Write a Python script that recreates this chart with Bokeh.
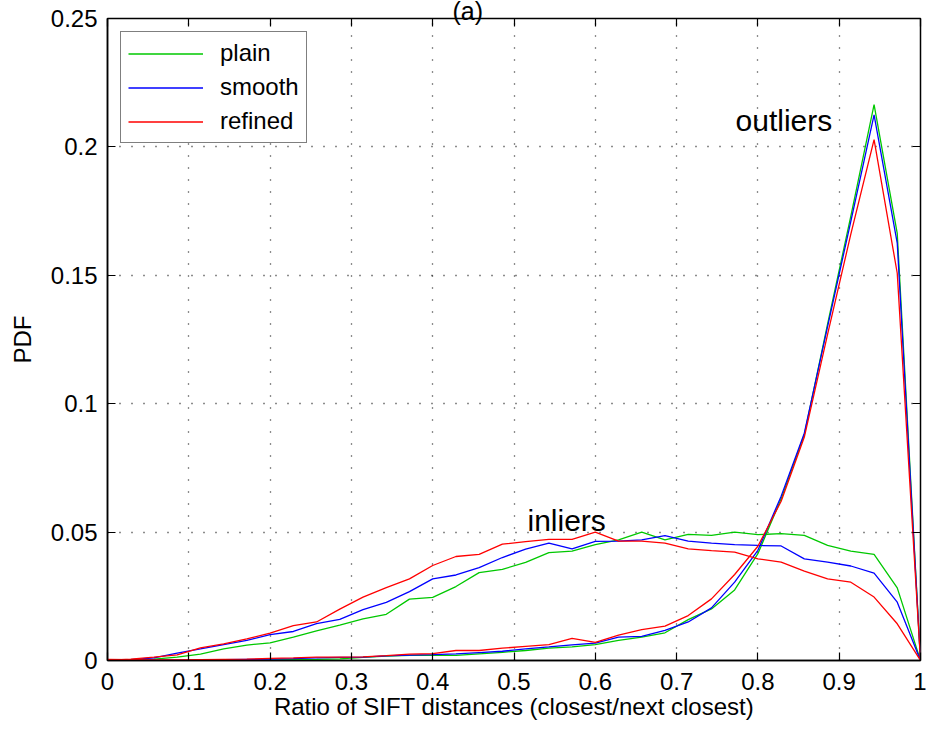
from bokeh.plotting import figure
from bokeh.models import LinearAxis, FixedTicker, Range1d, Label, CustomJSTickFormatter
from bokeh.embed import file_html
from bokeh.resources import INLINE

# bin positions (ratio of SIFT distances)
ratio = [0.0, 0.0286, 0.0571, 0.0857, 0.1143, 0.1429, 0.1714, 0.2, 0.2286, 0.2571,
         0.2857, 0.3143, 0.3429, 0.3714, 0.4, 0.4286, 0.4571, 0.4857, 0.5143, 0.5429,
         0.5714, 0.6, 0.6286, 0.6571, 0.6857, 0.7143, 0.7429, 0.7714, 0.8, 0.8286,
         0.8571, 0.8857, 0.9143, 0.9429, 0.9714, 1.0]

plain_in = [0.0, 0.0001, 0.0005, 0.0013, 0.0025, 0.0045, 0.006, 0.0069, 0.0091, 0.0115,
            0.0138, 0.0162, 0.018, 0.0239, 0.0246, 0.0288, 0.0342, 0.0355, 0.0382, 0.042,
            0.0426, 0.0451, 0.047, 0.05, 0.047, 0.0491, 0.0487, 0.05, 0.049, 0.0494,
            0.0487, 0.0448, 0.0426, 0.0413, 0.0283, 0.0]
smooth_in = [0.0, 0.0003, 0.001, 0.0029, 0.0045, 0.0062, 0.0078, 0.0101, 0.0113, 0.0144,
             0.016, 0.0198, 0.0226, 0.0268, 0.0318, 0.0333, 0.0362, 0.0401, 0.0434, 0.0457,
             0.0435, 0.0464, 0.0465, 0.047, 0.0486, 0.0465, 0.0457, 0.0451, 0.0448, 0.0446,
             0.0396, 0.0383, 0.0368, 0.034, 0.0227, 0.0]
refined_in = [0.0, 0.0005, 0.0013, 0.0022, 0.0049, 0.0065, 0.0084, 0.0107, 0.0136, 0.015,
              0.02, 0.0247, 0.0284, 0.0318, 0.037, 0.0405, 0.0413, 0.0453, 0.0463, 0.0472,
              0.0472, 0.05, 0.0465, 0.0465, 0.0457, 0.0435, 0.0428, 0.0422, 0.0396, 0.0383,
              0.0348, 0.0318, 0.0305, 0.0247, 0.0143, 0.0]

plain_out = [0.0, 0.0001, 0.0, 0.0, 0.0, 0.0, 0.0, 0.0002, 0.0003, 0.0004,
             0.0006, 0.0012, 0.0017, 0.002, 0.002, 0.002, 0.0026, 0.0032, 0.0039, 0.0048,
             0.0053, 0.0062, 0.0078, 0.0091, 0.0108, 0.0159, 0.0201, 0.0275, 0.0416, 0.063,
             0.088, 0.131, 0.173, 0.2165, 0.1663, 0.0]
smooth_out = [0.0, 0.0, 0.0001, 0.0001, 0.0002, 0.0003, 0.0004, 0.0005, 0.0007, 0.001,
              0.0012, 0.0013, 0.0018, 0.0021, 0.0023, 0.0026, 0.0031, 0.0036, 0.0045, 0.0053,
              0.0061, 0.0068, 0.0091, 0.0094, 0.0117, 0.015, 0.0205, 0.0305, 0.0429, 0.064,
              0.0885, 0.13, 0.171, 0.2125, 0.1625, 0.0]
refined_out = [0.0004, 0.0003, 0.0002, 0.0002, 0.0003, 0.0004, 0.0005, 0.0008, 0.001, 0.0013,
               0.0013, 0.0014, 0.0019, 0.0025, 0.0027, 0.0039, 0.0039, 0.0048, 0.0055, 0.0062,
               0.0086, 0.0071, 0.0099, 0.012, 0.0134, 0.0175, 0.024, 0.0335, 0.0445, 0.062,
               0.087, 0.127, 0.166, 0.2028, 0.1508, 0.0]

x_ticks = [0, 0.1, 0.2, 0.3, 0.4, 0.5, 0.6, 0.7, 0.8, 0.9, 1]
x_tick_labels = ["0", "0.1", "0.2", "0.3", "0.4", "0.5", "0.6", "0.7", "0.8", "0.9", "1"]
y_ticks = [0, 0.05, 0.1, 0.15, 0.2, 0.25]
y_tick_labels = ["0", "0.05", "0.1", "0.15", "0.2", "0.25"]

FONT = "Liberation Sans"
GREEN, BLUE, RED = "#00c800", "#0000ff", "#ff0000"

p = figure(width=926, height=729, x_range=Range1d(0, 1), y_range=Range1d(0, 0.25),
           output_backend="svg", toolbar_location=None,
           min_border_left=107, min_border_right=6, min_border_top=18, min_border_bottom=69)
p.background_fill_color = "white"
p.border_fill_color = "white"
p.outline_line_color = "black"
p.outline_line_width = 1.5

for ax, ticks, labels in [(p.xaxis[0], x_ticks, x_tick_labels), (p.yaxis[0], y_ticks, y_tick_labels)]:
    ax.ticker = FixedTicker(ticks=ticks)
    ax.major_label_overrides = {t: l for t, l in zip(ticks, labels)}
    ax.major_tick_in = 8
    ax.major_tick_out = 0
    ax.minor_tick_in = 0
    ax.minor_tick_out = 0
    ax.axis_line_width = 1.5
    ax.major_tick_line_width = 1.2
    ax.major_label_text_font = FONT
    ax.major_label_text_font_size = "24px"
    ax.major_label_text_color = "black"
    ax.axis_label_text_font = FONT
    ax.axis_label_text_font_size = "24px"
    ax.axis_label_text_font_style = "normal"
    ax.axis_label_text_color = "black"

p.xaxis.axis_label = "Ratio of SIFT distances (closest/next closest)"
p.yaxis.axis_label = "PDF"
p.xaxis.major_label_standoff = 12
p.xaxis.axis_label_standoff = 0
p.yaxis.major_label_standoff = 10
p.yaxis.axis_label_standoff = 12

blank = CustomJSTickFormatter(code="return '';")
top = LinearAxis(ticker=FixedTicker(ticks=x_ticks), formatter=blank, major_tick_in=8,
                 major_tick_out=0, minor_tick_in=0, minor_tick_out=0,
                 axis_line_color=None, major_tick_line_width=1.2, major_label_standoff=0)
right = LinearAxis(ticker=FixedTicker(ticks=y_ticks), formatter=blank, major_tick_in=8,
                   major_tick_out=0, minor_tick_in=0, minor_tick_out=0,
                   axis_line_color=None, major_tick_line_width=1.2, major_label_standoff=0)
p.add_layout(top, "above")
p.add_layout(right, "right")

p.xgrid.ticker = FixedTicker(ticks=x_ticks)
p.ygrid.ticker = FixedTicker(ticks=y_ticks)
for g in (p.xgrid[0], p.ygrid[0]):
    g.grid_line_color = "black"
    g.grid_line_dash = "1 11"
    g.grid_line_width = 1.3
    g.grid_line_alpha = 0.9

lw = 1.3
p.line(ratio, plain_in, line_color=GREEN, line_width=lw, legend_label="plain")
p.line(ratio, plain_out, line_color=GREEN, line_width=lw)
p.line(ratio, smooth_in, line_color=BLUE, line_width=lw, legend_label="smooth")
p.line(ratio, smooth_out, line_color=BLUE, line_width=lw)
p.line(ratio, refined_in, line_color=RED, line_width=lw, legend_label="refined")
p.line(ratio, refined_out, line_color=RED, line_width=lw)

lg = p.legend[0]
lg.location = "top_left"
lg.margin = 13
lg.padding = 7
lg.spacing = 6
lg.label_height = 27
lg.glyph_height = 27
lg.glyph_width = 75
lg.label_standoff = 17
lg.label_text_font = FONT
lg.label_text_font_size = "24px"
lg.label_text_color = "black"
lg.border_line_color = "black"
lg.border_line_width = 1.2
lg.background_fill_color = "white"
lg.background_fill_alpha = 1.0

p.add_layout(Label(x=0.7725, y=0.2102, text="outliers", text_font=FONT,
                   text_font_size="30px", text_color="black", text_baseline="alphabetic"))
p.add_layout(Label(x=0.5166, y=0.0546, text="inliers", text_font=FONT,
                   text_font_size="30px", text_color="black", text_baseline="alphabetic"))

# panel title "(a)" at the top edge
p.title.text = "(a)"
p.title.align = "left"
p.title.offset = 345
p.title.text_font = FONT
p.title.text_font_size = "25px"
p.title.text_font_style = "normal"
p.title.text_color = "black"
try:
    p.title.standoff = -13
except Exception:
    p.title.standoff = 0

open("out.html", "w").write(file_html(p, INLINE))
